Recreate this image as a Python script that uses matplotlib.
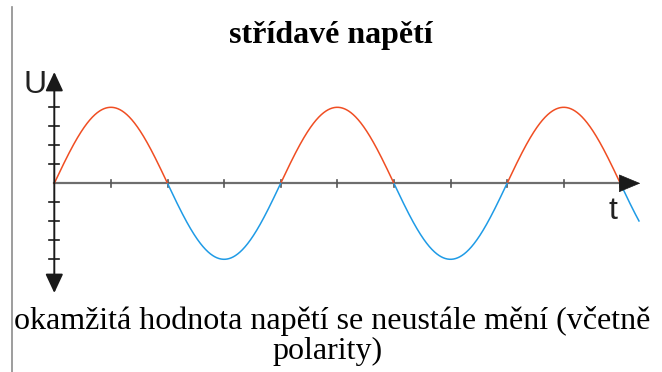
import numpy as np
import matplotlib
matplotlib.use("Agg")
import matplotlib.pyplot as plt

# chart content
title = "střídavé napětí"
caption = ["okamžitá hodnota napětí se neustále mění (včetně", "polarity)"]
y_label = "U"
x_label = "t"
amplitude = 4                      # peak, in y-tick steps
quarters_per_period = 4
x_ticks = [1, 2, 3, 4, 5, 6, 7, 8, 9, 10]
y_ticks = [-4, -3, -2, -1, 1, 2, 3, 4]
t_end = 10.33                      # curve runs slightly past the last zero

W, H = 662, 372
fig = plt.figure(figsize=(W / 100, H / 100), dpi=100)
ax = fig.add_axes([0, 0, 1, 1])
ax.set_axis_off()

# pixel scale: origin at (54.3, 183.3) px, 56.6 px per quarter, 19 px per step
ox, oy, sx, sy = 54.3, 183.3, 56.6, 19.0
ax.set_xlim(-ox / sx, (W - ox) / sx)
ax.set_ylim(-(H - oy) / sy, oy / sy)

red = "#f04e23"
blue = "#1f9be6"

t = np.linspace(0, t_end, 2000)
u = amplitude * np.sin(2 * np.pi * t / quarters_per_period)
ax.plot(t, np.where(u >= 0, u, np.nan), color=red, lw=1.1, zorder=3)
ax.plot(t, np.where(u <= 0, u, np.nan), color=blue, lw=1.1, zorder=3)

# x axis (gray) with ticks
x_arrow = 10.0
ax.plot([0, x_arrow], [0, 0], color="#6e6e6e", lw=1.6, zorder=2)
for xt in x_ticks:
    ax.plot([xt, xt], [-0.2, 0.2], color="#555555", lw=1.2, zorder=2)
ax.annotate("", xy=(x_arrow + 20 / sx, 0), xytext=(x_arrow, 0),
            arrowprops=dict(arrowstyle="-|>,head_length=0.72,head_width=0.3",
                            mutation_scale=20, color="#1a1a1a", lw=0.5,
                            shrinkA=0, shrinkB=0), zorder=4)

# y axis (black), double arrow
y_top, y_bot = (oy - 72) / sy, (oy - 293) / sy
ax.annotate("", xy=(0, y_top), xytext=(0, y_bot),
            arrowprops=dict(arrowstyle="<|-|>,head_length=0.58,head_width=0.27",
                            mutation_scale=20, color="#1a1a1a", lw=1.4,
                            shrinkA=0, shrinkB=0), zorder=4)
for yt in y_ticks:
    ax.plot([-0.09, 0.09], [yt, yt], color="#1a1a1a", lw=1.2, zorder=2)

# axis letters
ax.text((35 - ox) / sx, (oy - 93) / sy, y_label, fontsize=23,
        family="Liberation Sans", ha="center", va="baseline", color="#222222")
ax.text((613 - ox) / sx, (oy - 219) / sy, x_label, fontsize=23,
        family="Liberation Sans", ha="center", va="baseline", color="#222222")

# left frame line
fig.add_artist(plt.Line2D([11.5 / W, 11.5 / W], [0, 1 - 7 / H],
                          color="#8c8c8c", lw=1.2))

fig.text(331 / W, 1 - 43.5 / H, title, fontsize=23, fontweight="bold",
         family="Liberation Serif", ha="center", va="baseline")
fig.text(332 / W, 1 - 329 / H, caption[0], fontsize=23,
         family="Liberation Serif", ha="center", va="baseline")
fig.text(328 / W, 1 - 359 / H, caption[1], fontsize=23,
         family="Liberation Serif", ha="center", va="baseline")

fig.savefig("out.png", dpi=100)
